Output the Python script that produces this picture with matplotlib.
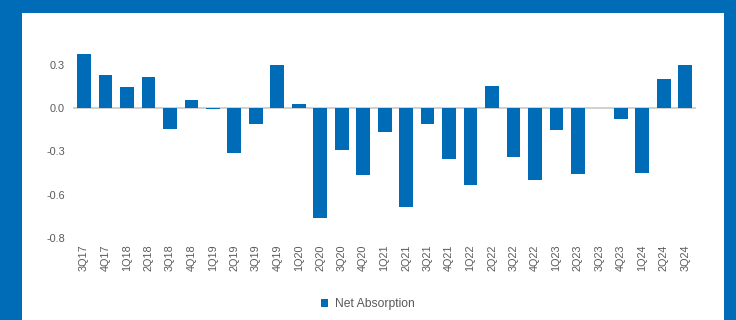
import matplotlib
matplotlib.use("Agg")
import matplotlib.pyplot as plt
from matplotlib.patches import Rectangle
import numpy as np

quarters = ["3Q17", "4Q17", "1Q18", "2Q18", "3Q18", "4Q18", "1Q19", "2Q19", "3Q19", "4Q19",
            "1Q20", "2Q20", "3Q20", "4Q20", "1Q21", "2Q21", "3Q21", "4Q21", "1Q22", "2Q22",
            "3Q22", "4Q22", "1Q23", "2Q23", "3Q23", "4Q23", "1Q24", "2Q24", "3Q24"]
net_absorption = [0.372, 0.227, 0.147, 0.212, -0.143, 0.053, -0.007, -0.314, -0.109, 0.294,
                  0.027, -0.762, -0.291, -0.466, -0.169, -0.684, -0.113, -0.356, -0.533, 0.152,
                  -0.339, -0.497, -0.152, -0.455, -0.003, -0.074, -0.448, 0.198, 0.294]
ytick_vals = [0.3, 0.0, -0.3, -0.6, -0.9]
ytick_labels = ["0.3", "0.0", "-0.3", "-0.6", "-0.8"]

blue = "#006BB6"
grey_txt = "#595959"
plt.rcParams['font.family'] = ['Liberation Sans', 'DejaVu Sans']

fig = plt.figure(figsize=(7.36, 3.2), dpi=100)
fig.patch.set_facecolor(blue)
# white panel inside the blue frame
fig.patches.append(Rectangle((22 / 736, 0), 702 / 736, 307.5 / 320,
                             transform=fig.transFigure, facecolor="white",
                             edgecolor="none", zorder=-1))

ax = fig.add_axes([73.3 / 736, 0.256, 622.7 / 736, 0.61])
ax.set_zorder(1)
ax.set_facecolor("none")
x = np.arange(len(quarters))
ax.axhline(0, color="#C8C8C8", linewidth=1.2, zorder=1)
ax.bar(x, net_absorption, width=0.64, color=blue, zorder=2, label="Net Absorption")

ax.set_xlim(-0.5, len(quarters) - 0.5)
ax.set_ylim(-0.9, 0.45)
ax.set_yticks(ytick_vals, ytick_labels)
ax.set_xticks(x, quarters, rotation=90)
ax.tick_params(axis="both", length=0, labelsize=7.8, labelcolor=grey_txt)
ax.tick_params(axis="x", pad=4.5)
ax.tick_params(axis="y", pad=6)
for s in ax.spines.values():
    s.set_visible(False)

fig.legend(loc="center", bbox_to_anchor=(368 / 736, 0.05), frameon=False,
           fontsize=8.7, labelcolor=grey_txt, handlelength=0.6, handleheight=0.6,
           handletextpad=0.6)

fig.savefig("out.png", dpi=100, facecolor=fig.get_facecolor())
